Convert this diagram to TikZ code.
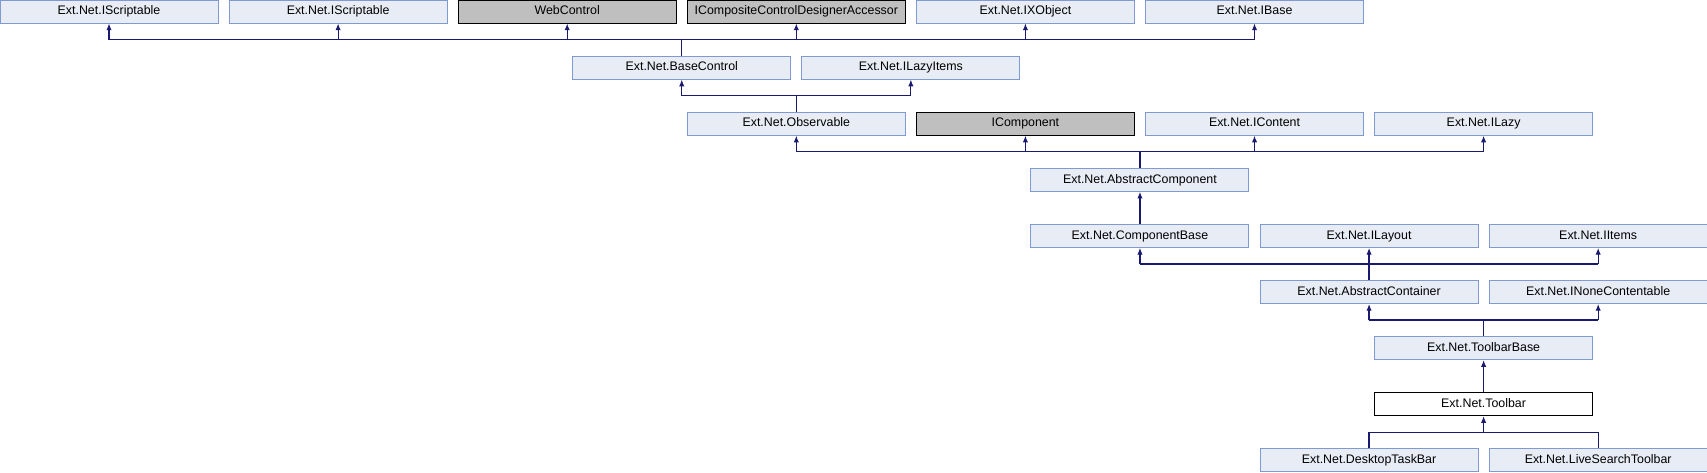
\documentclass[tikz,border=0pt]{standalone}
\usepackage{fontspec}
\setmainfont{Liberation Sans}
\usetikzlibrary{arrows.meta}

\definecolor{boxfill}{HTML}{E8ECF5}
\definecolor{boxline}{HTML}{7F9AD0}
\definecolor{edgeblue}{HTML}{191970}
\definecolor{extgray}{HTML}{BFBFBF}

\tikzset{
    cls/.style={draw=boxline, fill=boxfill, line width=0.75pt, minimum width=163.5pt,
        minimum height=17.25pt, inner sep=0pt, text height=6.8pt, text depth=1.9pt,
        font=\fontsize{9.3}{11}\selectfont},
    ext/.style={cls, draw=black, fill=extgray},
    cur/.style={cls, draw=black, fill=white},
    link/.style={edgeblue, line width=0.85pt},
    inherit/.style={link, -{Latex[length=5pt,width=4pt]}}
}

\begin{document}
\begin{tikzpicture}[x=0.75pt,y=-0.75pt]
    \useasboundingbox (0,0) rectangle (1707,472);

    % row 1
    \node[cls] (s1)  at (109,11.5)     {Ext.Net.IScriptable};
    \node[cls] (s2)  at (338.1,11.5)   {Ext.Net.IScriptable};
    \node[ext] (wc)  at (567.2,11.5)   {WebControl};
    \node[ext] (icc) at (796.3,11.5)   {ICompositeControlDesignerAccessor};
    \node[cls] (ix)  at (1025.4,11.5)  {Ext.Net.IXObject};
    \node[cls] (ib)  at (1254.5,11.5)  {Ext.Net.IBase};

    % row 2
    \node[cls] (bc)  at (681.75,67.6)  {Ext.Net.BaseControl};
    \node[cls] (lzi) at (910.85,67.6)  {Ext.Net.ILazyItems};

    % row 3
    \node[cls] (obs) at (796.3,123.7)  {Ext.Net.Observable};
    \node[ext] (ico) at (1025.4,123.7) {IComponent};
    \node[cls] (ict) at (1254.5,123.7) {Ext.Net.IContent};
    \node[cls] (ilz) at (1483.6,123.7) {Ext.Net.ILazy};

    % rows 4 - 9
    \node[cls] (ac)  at (1139.95,179.8) {Ext.Net.AbstractComponent};
    \node[cls] (cb)  at (1139.95,235.9) {Ext.Net.ComponentBase};
    \node[cls] (ily) at (1369.05,235.9) {Ext.Net.ILayout};
    \node[cls] (iit) at (1598.15,235.9) {Ext.Net.IItems};
    \node[cls] (acn) at (1369.05,292)   {Ext.Net.AbstractContainer};
    \node[cls] (inc) at (1598.15,292)   {Ext.Net.INoneContentable};
    \node[cls] (tbb) at (1483.6,348.1)  {Ext.Net.ToolbarBase};
    \node[cur] (tb)  at (1483.6,404.2)  {Ext.Net.Toolbar};
    \node[cls] (dtb) at (1369.05,460.3) {Ext.Net.DesktopTaskBar};
    \node[cls] (lst) at (1598.15,460.3) {Ext.Net.LiveSearchToolbar};

    % junction levels
    \coordinate (j1) at (0,39.55);
    \coordinate (j2) at (0,95.65);
    \coordinate (j3) at (0,151.75);
    \coordinate (j5) at (0,263.95);
    \coordinate (j6) at (0,320.05);
    \coordinate (j8) at (0,432.25);

    % BaseControl
    \draw[link] (bc.north) -- (bc.north |- j1);
    \draw[link] (s1.south |- j1) -- (ib.south |- j1);
    \foreach \p in {s1,s2,wc,icc,ix,ib}{
        \draw[inherit] (\p.south |- j1) -- (\p.south);
    }

    % Observable
    \draw[link] (obs.north) -- (obs.north |- j2);
    \draw[link] (bc.south |- j2) -- (lzi.south |- j2);
    \foreach \p in {bc,lzi}{
        \draw[inherit] (\p.south |- j2) -- (\p.south);
    }

    % AbstractComponent
    \draw[link] (ac.north) -- (ac.north |- j3);
    \draw[link] (obs.south |- j3) -- (ilz.south |- j3);
    \foreach \p in {obs,ico,ict,ilz}{
        \draw[inherit] (\p.south |- j3) -- (\p.south);
    }

    \draw[inherit] (cb.north) -- (ac.south);

    % AbstractContainer
    \draw[link] (acn.north) -- (acn.north |- j5);
    \draw[link] (cb.south |- j5) -- (iit.south |- j5);
    \foreach \p in {cb,ily,iit}{
        \draw[inherit] (\p.south |- j5) -- (\p.south);
    }

    % ToolbarBase
    \draw[link] (tbb.north) -- (tbb.north |- j6);
    \draw[link] (acn.south |- j6) -- (inc.south |- j6);
    \foreach \p in {acn,inc}{
        \draw[inherit] (\p.south |- j6) -- (\p.south);
    }

    \draw[inherit] (tb.north) -- (tbb.south);

    % Toolbar
    \draw[link] (dtb.north) -- (dtb.north |- j8) -- (lst.north |- j8) -- (lst.north);
    \draw[inherit] (tb.south |- j8) -- (tb.south);
\end{tikzpicture}
\end{document}
